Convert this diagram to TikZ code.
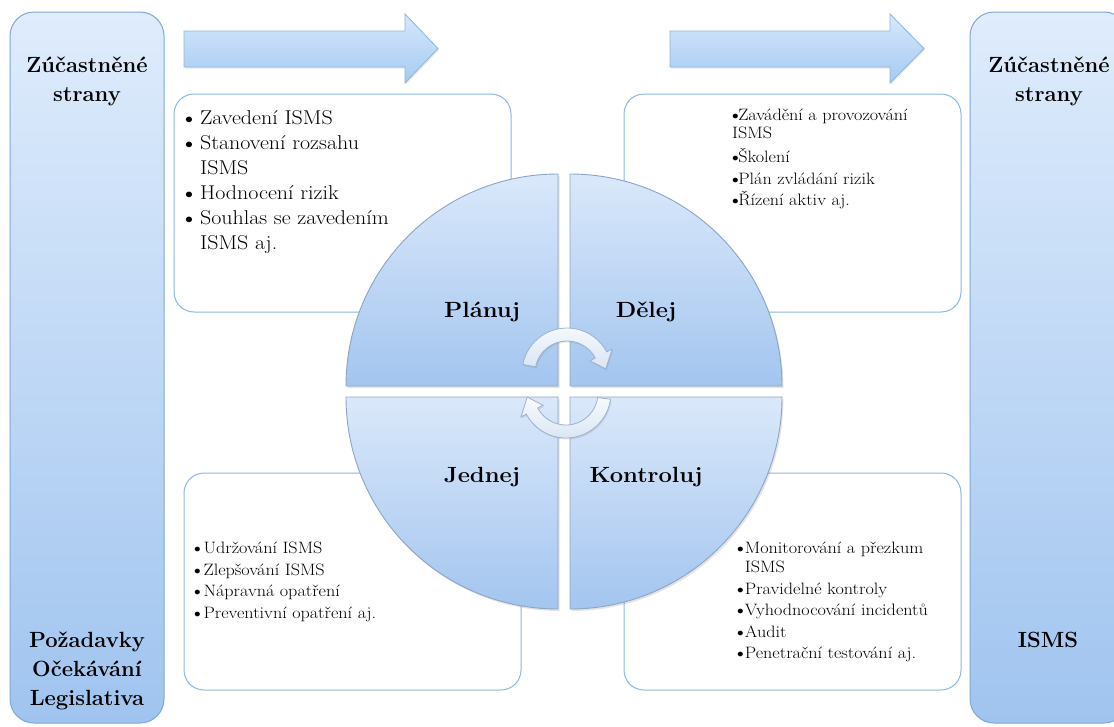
\documentclass[tikz,border=0pt]{standalone}
\usepackage{fontspec}
\usepackage{graphicx}
\usetikzlibrary{shadows}
\newcommand{\bul}[1]{\makebox[#1][l]{\raisebox{0.06em}{$\scriptstyle\bullet$}}}
\newcommand{\stretchtx}[2]{\scalebox{#1}[1]{#2}}
\definecolor{bigTop}{HTML}{DFECFC}
\definecolor{bigBot}{HTML}{A0C4EF}
\definecolor{bigBorder}{HTML}{7EA8D6}
\definecolor{arrTop}{HTML}{D6E7FB}
\definecolor{arrBot}{HTML}{A6CAF2}
\definecolor{arrBorder}{HTML}{8DB6DE}
\definecolor{boxBorder}{HTML}{8AB8DE}
\definecolor{quadTop}{HTML}{DAE8FA}
\definecolor{quadBot}{HTML}{A3C5EF}
\definecolor{quadBorder}{HTML}{8CA5C4}
\definecolor{cTop}{HTML}{F7FAFD}
\definecolor{cBot}{HTML}{D9E5F4}
\definecolor{cBorder}{HTML}{9BB2CE}
\begin{document}
\begin{tikzpicture}[x=1pt,y=-1pt,
  bigbox/.style={draw=bigBorder, line width=1pt, rounded corners=24pt, top color=bigTop, bottom color=bigBot},
  bigarrow/.style={draw=arrBorder, line width=0.8pt, top color=arrTop, bottom color=arrBot,
     drop shadow={opacity=0.18, shadow xshift=1pt, shadow yshift=-1.5pt}},
  textbox/.style={draw=boxBorder, line width=1pt, rounded corners=20pt, fill=white},
  quad/.style={draw=quadBorder, line width=0.9pt, top color=quadTop, bottom color=quadBot,
     drop shadow={opacity=0.22, shadow xshift=1.5pt, shadow yshift=-2pt}},
  carrow/.style={draw=cBorder, line width=0.8pt, top color=cTop, bottom color=cBot,
     drop shadow={opacity=0.2, shadow xshift=1pt, shadow yshift=-1.5pt}},
  biglabel/.style={font=\bfseries\fontsize{22}{28}\selectfont, inner sep=0pt, anchor=base},
  listtext/.style={inner sep=0pt, anchor=base west, align=left}
]
\useasboundingbox (0,0) rectangle (1114,726);
\clip (0,0) rectangle (1114,726);

% side boxes
\draw[bigbox] (10,12) rectangle (164,723);
\draw[bigbox] (970,12) rectangle (1128,723);
\node[biglabel] (lz) at (87,72) {Zúčastněné};
\node[biglabel] (ls) at (87,101) {strany};
\node[biglabel] (lp) at (87,647) {Požadavky};
\node[biglabel] (lo) at (87,676) {Očekávání};
\node[biglabel] (ll) at (87,705) {Legislativa};
\node[biglabel] (rz) at (1049,72) {Zúčastněné};
\node[biglabel] (rs) at (1049,101) {strany};
\node[biglabel] (ri) at (1048,647) {ISMS};

% top arrows
\draw[bigarrow] (184,31) -- (405,31) -- (405,14) -- (438,48.5) -- (405,83) -- (405,67) -- (184,67) -- cycle;
\draw[bigarrow] (670,31) -- (890,31) -- (890,14) -- (924,48.5) -- (890,83) -- (890,67) -- (670,67) -- cycle;

% text boxes
\draw[textbox] (174,94) rectangle (511,312);
\draw[textbox] (624,94) rectangle (961,312);
\draw[textbox] (184,473) rectangle (521,690);
\draw[textbox] (624,473) rectangle (961,690);

% quadrants
\draw[quad] (558,386) -- (346,386) arc[start angle=180, end angle=270, radius=212] -- cycle;
\draw[quad] (570,386) -- (570,174) arc[start angle=270, end angle=360, radius=212] -- cycle;
\draw[quad] (570,397) -- (782,397) arc[start angle=0, end angle=90, radius=212] -- cycle;
\draw[quad] (558,397) -- (558,609) arc[start angle=90, end angle=180, radius=212] -- cycle;

\node[biglabel] (plan) at (482,317) {\stretchtx{1.08}{Plánuj}};
\node[biglabel] (do) at (646,317) {\stretchtx{1.08}{Dělej}};
\node[biglabel] (act) at (482,482) {\stretchtx{1.08}{Jednej}};
\node[biglabel] (check) at (646,482) {\stretchtx{1.08}{Kontroluj}};

% central circular arrows
\draw[carrow, shift={(567,373)}] (191:45) arc[start angle=191, end angle=332, radius=45]
   -- (332:51) -- (354:39) -- (332:26) -- (332:32)
   arc[start angle=332, end angle=191, radius=32] -- cycle;
\draw[carrow, shift={(566,393)}] (8:45) arc[start angle=8, end angle=152, radius=45]
   -- (152:51) -- (174:39) -- (152:26) -- (152:32)
   arc[start angle=152, end angle=8, radius=32] -- cycle;

% list texts
\node[listtext, font=\fontsize{20}{25}\selectfont] (tl) at (185,124.5) {\stretchtx{1.1}{\begin{tabular}[t]{@{}l@{}}
\bul{13.5pt}Zavedení ISMS\\
\bul{13.5pt}Stanovení rozsahu\\
\hspace*{13.5pt}ISMS\\
\bul{13.5pt}Hodnocení rizik\\
\bul{13.5pt}Souhlas se zavedením\\
\hspace*{13.5pt}ISMS aj.
\end{tabular}}};

\node[listtext, font=\fontsize{16.5}{18}\selectfont] (tr) at (732,120.5) {\stretchtx{1.1}{\begin{tabular}[t]{@{}l@{}}
\bul{5.5pt}Zavádění a provozování\\
ISMS\\[4pt]
\bul{5.5pt}Školení\\[4pt]
\bul{5.5pt}Plán zvládání rizik\\[2pt]
\bul{5.5pt}Řízení aktiv aj.
\end{tabular}}};

\node[listtext, font=\fontsize{16.5}{21.7}\selectfont] (bl) at (194,553.5) {\stretchtx{1.1}{\begin{tabular}[t]{@{}l@{}}
\bul{8.5pt}Udržování ISMS\\
\bul{8.5pt}Zlepšování ISMS\\
\bul{8.5pt}Nápravná opatření\\
\bul{8.5pt}Preventivní opatření aj.
\end{tabular}}};

\node[listtext, font=\fontsize{16.5}{19}\selectfont] (br) at (737,553.5) {\stretchtx{1.1}{\begin{tabular}[t]{@{}l@{}}
\bul{7pt}Monitorování a přezkum\\
\hspace*{7pt}ISMS\\[2.5pt]
\bul{7pt}Pravidelné kontroly\\[2.5pt]
\bul{7pt}Vyhodnocování incidentů\\[2.5pt]
\bul{7pt}Audit\\[2.5pt]
\bul{7pt}Penetrační testování aj.
\end{tabular}}};
\end{tikzpicture}
\end{document}
